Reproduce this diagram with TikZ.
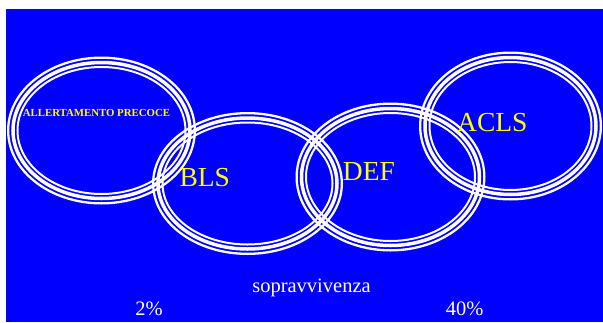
\documentclass[tikz,border=0pt]{standalone}
\usepackage{fontspec}
\setmainfont{Liberation Serif}
\definecolor{slideblue}{RGB}{0,0,255}
\definecolor{labelyellow}{RGB}{255,255,0}
\tikzset{
  ringline/.style={draw=white},
  biglabel/.style={text=labelyellow, font=\fontsize{27.5}{30}\selectfont, anchor=base west, inner sep=0pt},
  smalllabel/.style={text=labelyellow, font=\bfseries\fontsize{10.8}{12}\selectfont, anchor=base west, inner sep=0pt},
  footlabel/.style={text=white, font=\fontsize{20.5}{22}\selectfont, anchor=base, inner sep=0pt}
}
% triple white ring: centre x, centre y, outer x radius, outer y radius (all in pt)
\newcommand{\triplering}[4]{%
  \draw[ringline, line width=2.3pt] (#1,#2) ellipse [x radius={(#3-1.15)*1pt}, y radius={(#4-1.15)*1pt}];
  \draw[ringline, line width=3.5pt] (#1,#2) ellipse [x radius={(#3-6)*1pt}, y radius={(#4-6)*1pt}];
  \draw[ringline, line width=2pt]   (#1,#2) ellipse [x radius={(#3-10.5)*1pt}, y radius={(#4-10.5)*1pt}];
}
\begin{document}
\begin{tikzpicture}[x=1pt, y=-1pt]
  \useasboundingbox (0,0) rectangle (603,322);
  \fill[white] (0,0) rectangle (603,322);
  \fill[slideblue] (6,9) rectangle (603,322);

  % the four chain rings
  \triplering{101.5}{130.5}{94.5}{74}
  \triplering{247.5}{183.5}{95.5}{71.5}
  \triplering{390.5}{177}{95}{74.5}
  \triplering{510.5}{126}{91.5}{74.5}

  % ring labels
  \node[smalllabel] (allert) at (22.7,116.7) {ALLERTAMENTO PRECOCE};
  \node[biglabel] (bls)  at (179.3,186.7) {BLS};
  \node[biglabel] (def)  at (342.7,180.7) {DEF};
  \node[biglabel] (acls) at (457,131) {ACLS};

  % survival caption
  \node[footlabel] (sopr) at (311.5,292) {sopravvivenza};
  \node[footlabel] (low)  at (149,315) {2\%};
  \node[footlabel] (high) at (464.7,315) {40\%};
\end{tikzpicture}
\end{document}
